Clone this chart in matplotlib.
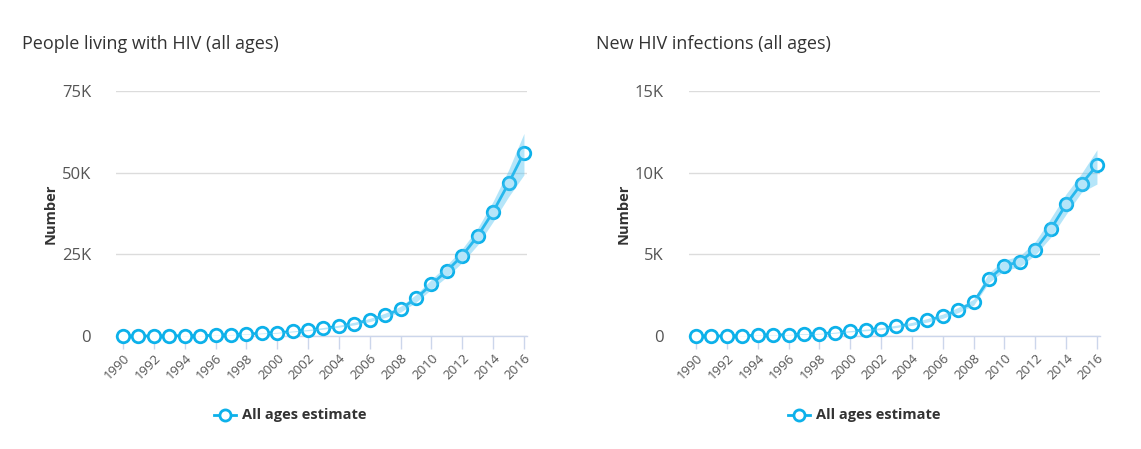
import numpy as np
import matplotlib.pyplot as plt
from matplotlib.ticker import FuncFormatter

years = list(range(1990, 2017))

# People living with HIV (estimate, lower, upper)
plhiv = [0, 0, 0, 0, 100, 100, 200, 400, 600, 800, 1000, 1400, 1800, 2350,
         3000, 3800, 4900, 6300, 8200, 11500, 15800, 19900, 24600, 30600,
         38000, 46700, 56100]
plhiv_lo = [0, 0, 0, 0, 80, 80, 170, 350, 530, 700, 880, 1250, 1600, 2100,
            2700, 3400, 4400, 5650, 7300, 10300, 14300, 18100, 22500, 27900,
            35000, 42600, 49300]
plhiv_hi = [0, 0, 0, 0, 120, 120, 230, 450, 670, 900, 1120, 1550, 2000, 2600,
            3300, 4200, 5400, 7000, 9100, 12700, 17300, 21700, 26700, 33000,
            41200, 50800, 62000]

# New HIV infections (estimate, lower, upper)
newinf = [0, 0, 0, 20, 40, 60, 80, 120, 140, 200, 290, 370, 450, 590, 740,
          960, 1210, 1590, 2060, 3490, 4310, 4540, 5290, 6530, 8060, 9320,
          10440]
newinf_lo = [0, 0, 0, 15, 30, 50, 65, 100, 120, 170, 250, 320, 390, 520, 650,
             850, 1080, 1430, 1880, 3270, 4000, 4240, 4960, 6040, 7450, 8800,
             9300]
newinf_hi = [0, 0, 0, 25, 50, 70, 95, 140, 160, 230, 330, 420, 510, 660, 830,
             1070, 1340, 1750, 2250, 3880, 4650, 4900, 5780, 7200, 8700, 9950,
             11400]

titles = ["People living with HIV (all ages)", "New HIV infections (all ages)"]
yticks = [[0, 25000, 50000, 75000], [0, 5000, 10000, 15000]]
legend_label = "All ages estimate"

LINE = "#0db1ea"
BAND = "#4fc3f2"
GRID = "#dcdcdc"
AXIS = "#ccd6eb"

plt.rcParams['font.family'] = ['Open Sans', 'DejaVu Sans']

fig = plt.figure(figsize=(11.41, 4.49), dpi=100)

panels = [
    (0.1017, titles[0], plhiv, plhiv_lo, plhiv_hi, yticks[0], 22, 292),
    (0.6039, titles[1], newinf, newinf_lo, newinf_hi, yticks[1], 596, 866),
]

def kfmt(v, pos):
    return "0" if v == 0 else f"{int(v / 1000)}K"

for x0, title, est, lo, hi, yt, title_px, leg_px in panels:
    ax = fig.add_axes([x0, 0.2517, 0.3602, 0.5457])
    ax.plot(years, est, color=LINE, lw=2, marker="o", markersize=9,
            markerfacecolor="white", markeredgecolor=LINE, markeredgewidth=2,
            zorder=3, clip_on=False)
    # confidence band drawn over the markers, as in the original
    ax.fill_between(years, lo, hi, color=BAND, alpha=0.42, linewidth=0, zorder=4)
    ax.set_xlim(1989.55, 2016.2)
    ax.set_ylim(0, yt[-1])
    ax.set_yticks(yt)
    ax.yaxis.set_major_formatter(FuncFormatter(kfmt))
    ax.set_xticks(years[::2])
    ax.set_xticklabels([str(y) for y in years[::2]], rotation=45,
                       ha="right", va="top", rotation_mode="anchor",
                       fontsize=9.5, color="#555555")
    ax.tick_params(axis="x", length=9, width=1, color=AXIS, pad=2)
    ax.tick_params(axis="y", length=0, pad=18, labelsize=12,
                   labelcolor="#555555")
    ax.grid(axis="y", color=GRID, lw=1)
    ax.set_axisbelow(True)
    for s in ["top", "right", "left"]:
        ax.spines[s].set_visible(False)
    ax.spines["bottom"].set_color(AXIS)
    ax.spines["bottom"].set_linewidth(1)
    ax.set_ylabel("Number", fontsize=10.5, fontweight="bold", color="#333333",
                  labelpad=3)
    fig.text(title_px / 1141, 1 - 44 / 449, title, fontsize=13,
             color="#333333", ha="left", va="center")

    # legend entry
    lx = leg_px / 1141
    ly = 1 - 415 / 449
    fig.lines.append(plt.Line2D([lx - 0.068, lx - 0.049], [ly, ly],
                                transform=fig.transFigure, color=LINE, lw=2))
    fig.lines.append(plt.Line2D([lx - 0.0585], [ly], transform=fig.transFigure,
                                color=LINE, marker="o", markersize=8,
                                markerfacecolor="white", markeredgewidth=2,
                                lw=0))
    fig.text(lx - 0.044, ly, legend_label, fontsize=10.5, fontweight="bold",
             color="#333333", ha="left", va="center")

fig.savefig("out.png", dpi=100)
